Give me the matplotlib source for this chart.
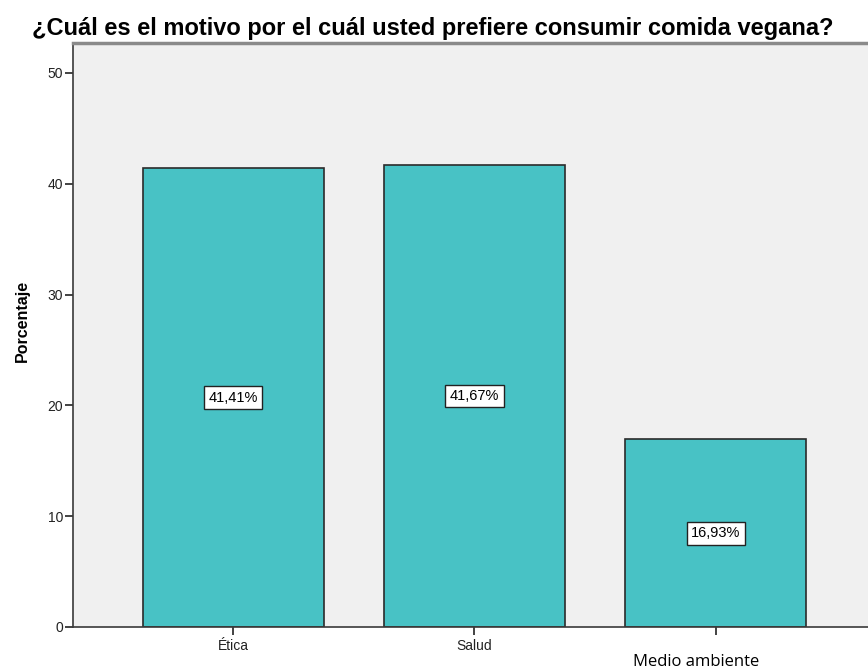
import matplotlib.pyplot as plt

# Motivos de preferencia por la comida vegana (porcentaje)
motivos = ['Ética', 'Salud', 'Medio ambiente']
porcentajes = [41.41, 41.67, 16.93]
etiquetas = ['41,41%', '41,67%', '16,93%']

plt.rcParams['font.family'] = ['Liberation Sans', 'DejaVu Sans']

fig = plt.figure(figsize=(8.68, 6.72), dpi=100)
ax = fig.add_axes([0.0841, 0.067, 0.925, 0.869])
ax.set_facecolor('#f0f0f0')

x = range(len(motivos))
ax.bar(x, porcentajes, width=0.75, color='#48c2c5',
       edgecolor='#2b2b2b', linewidth=1.2, zorder=2)

# Etiquetas de valor a media altura de cada barra
for i, (v, txt) in enumerate(zip(porcentajes, etiquetas)):
    ax.text(i, v / 2, txt, ha='center', va='center', fontsize=10.5,
            bbox=dict(boxstyle='square,pad=0.3', fc='white',
                      ec='#222222', lw=1), zorder=3)

ax.set_xlim(-0.663, 2.663)
ax.set_ylim(0, 52.7)
ax.set_yticks([0, 10, 20, 30, 40, 50])
ax.set_xticks(list(x))
ax.set_xticklabels(['Ética', 'Salud', ''], fontsize=10)
ax.tick_params(axis='both', direction='out', length=6, width=1.2,
               colors='#222222', labelsize=10, pad=3)
ax.tick_params(axis='y', pad=1)

for side in ['left', 'bottom']:
    ax.spines[side].set_color('#3a3a3a')
    ax.spines[side].set_linewidth(1.2)
ax.spines['top'].set_color('#8a8a8a')
ax.spines['top'].set_linewidth(2.5)
ax.spines['right'].set_visible(False)

# Tercera etiqueta en otra fuente, más abajo
fig.text(696 / 868, 1 - 662 / 672, 'Medio ambiente', ha='center', va='center',
         fontsize=12, family=['Open Sans', 'DejaVu Sans'])

fig.text(22 / 868, 1 - 321 / 672, 'Porcentaje', rotation=90, ha='center',
         va='center', fontsize=11.5, fontweight='bold')

fig.text(433 / 868, 1 - 29 / 672,
         '¿Cuál es el motivo por el cuál usted prefiere consumir comida vegana?',
         ha='center', va='center', fontsize=17, fontweight='bold')

plt.savefig('out.png', dpi=100)
